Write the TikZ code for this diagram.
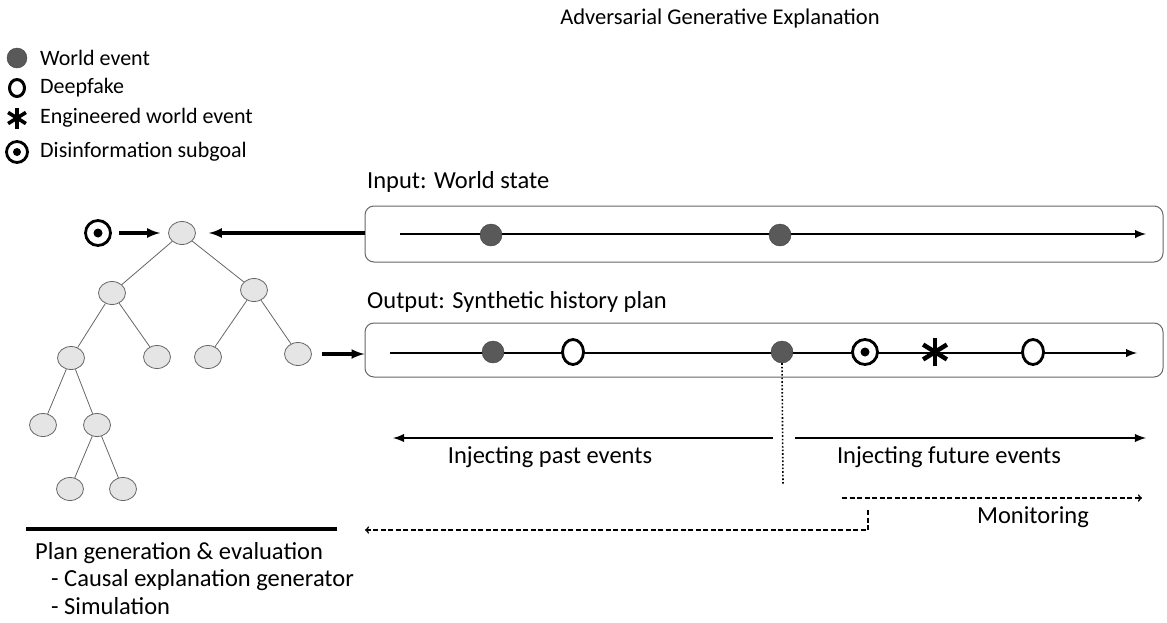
\documentclass[tikz,border=0pt]{standalone}
\usepackage{fontspec}
\setmainfont{Carlito}
\usetikzlibrary{arrows, shapes.geometric}
\tikzstyle{tnode} = [draw=black!60, fill=black!10, ellipse, line width=0.8pt, minimum width=27pt, minimum height=23pt, inner sep=0pt]
\tikzstyle{wevent} = [circle, draw=black!75, fill=black!65, minimum size=22pt, inner sep=0pt]
\tikzstyle{dfake} = [ellipse, draw, line width=2.8pt, fill=white, minimum width=21pt, minimum height=25pt, inner sep=0pt]
\tikzstyle{sgoal} = [circle, draw, line width=2.8pt, fill=white, minimum size=25pt, inner sep=0pt, path picture={\fill[black] (path picture bounding box.center) circle (4.5pt);}]
\tikzstyle{astk} = [minimum size=32pt, inner sep=0pt, path picture={
  \foreach \a in {90,32,148}
    \draw[black, line width=4.5pt, shift={(path picture bounding box.center)}] (\a:14pt) -- (\a+180:14pt);}]
\tikzstyle{box} = [draw=black!60, line width=1pt, rounded corners=9pt, minimum width=798pt, minimum height=56pt]
\tikzstyle{label} = [font=\fontsize{24.5}{28}\selectfont, inner sep=0pt]
\tikzstyle{legend} = [font=\fontsize{22}{26}\selectfont, inner sep=0pt, anchor=west]
\tikzstyle{timeline} = [draw, line width=2.7pt, -latex]
\tikzstyle{bigarrow} = [draw, line width=3.4pt, -latex]
\tikzstyle{span} = [draw, line width=2.8pt, -latex]
\tikzstyle{monitor} = [draw, line width=1.6pt, dash pattern=on 5pt off 2.5pt, ->]
\newcommand{\tnd}[3]{
node (#1) [tnode] at (#2,#3) {}}

\begin{document}
\begin{tikzpicture}[x=1pt, y=-1pt]
		\useasboundingbox (0,0) rectangle (1167,622);

		% Title and legend
		\node (title) [label, font=\fontsize{22.5}{26}\selectfont] at (720,18) {Adversarial Generative Explanation};
		\node (lgw) [wevent, minimum size=20pt] at (17,58) {};
		\node (lgd) [dfake, line width=3pt, minimum width=15pt, minimum height=17pt] at (17,88) {};
		\node (lga) [astk, minimum size=24pt, path picture={
		  \foreach \a in {90,32,148}
		    \draw[black, line width=3.6pt, shift={(path picture bounding box.center)}] (\a:10.5pt) -- (\a+180:10.5pt);}] at (17,118) {};
		\node (lgs) [sgoal, minimum size=21pt, path picture={\fill[black] (path picture bounding box.center) circle (4pt);}] at (17,152) {};
		\node (lgwt) [legend] at (40,58) {World event};
		\node (lgdt) [legend] at (40,88) {Deepfake};
		\node (lgat) [legend] at (40,118) {Engineered world event};
		\node (lgst) [legend] at (40,152) {Disinformation subgoal};

		% Plan tree
		\path \tnd{root}{182}{233};
		\path \tnd{l}{112}{293};
		\path \tnd{r}{254}{290};
		\path \tnd{ll}{71}{358};
		\path \tnd{lr}{157}{357};
		\path \tnd{rl}{208}{357};
		\path \tnd{rr}{298}{354};
		\path \tnd{lll}{43}{425};
		\path \tnd{llr}{97}{425};
		\path \tnd{llra}{70}{489};
		\path \tnd{llrb}{123}{489};
		\foreach \p/\c in {root/l, root/r, l/ll, l/lr, r/rl, r/rr, ll/lll, ll/llr, llr/llra, llr/llrb}
		  \draw[black!60, line width=0.8pt] (\p) -- (\c);
		\node (goal) [sgoal] at (98,233) {};

		% Input and output boxes
		\node (inbox) [box] at (764,234) {};
		\node (outbox) [box, minimum height=54pt] at (764,350) {};
		\node (intxt) [label, anchor=west] at (367,182) {Input: World state};
		\node (outtxt) [label, anchor=west] at (367,302) {Output: Synthetic history plan};

		% Input timeline
		\coordinate (is) at (400,234);
		\coordinate (ie) at (1146,234);
		\path [timeline] (is) -- (ie);
		\node (iw1) [wevent] at (491,235) {};
		\node (iw2) [wevent] at (780,235) {};

		% Output timeline
		\coordinate (os) at (390,353);
		\coordinate (oe) at (1137,353);
		\path [timeline] (os) -- (oe);
		\node (ow1) [wevent] at (493,352) {};
		\node (od1) [dfake] at (573,352) {};
		\node (ow2) [wevent] at (782,352) {};
		\node (og) [sgoal] at (865,352) {};
		\node (oa) [astk] at (935,352) {};
		\node (od2) [dfake] at (1033,352) {};

		% Arrows between elements
		\path [bigarrow, shorten >=13pt] (inbox.west |- root) -- (root);
		\path [bigarrow, shorten <=7pt, shorten >=8pt] (goal) -- (root);
		\path [bigarrow, shorten <=10pt] (rr) -- (outbox.west |- rr);

		% Past and future injection
		\coordinate (dotend) at (783,485);
		\draw[line width=1.6pt, dotted] (ow2.south) -- (dotend);
		\coordinate (pa) at (773,438);
		\coordinate (pb) at (393,438);
		\coordinate (fa) at (795,438);
		\coordinate (fb) at (1146,438);
		\path [span] (pa) -- (pb);
		\path [span] (fa) -- (fb);
		\node (pasttxt) [label] at (550,457) {Injecting past events};
		\node (futtxt) [label] at (949,457) {Injecting future events};

		% Monitoring
		\coordinate (ma) at (842,498);
		\coordinate (mb) at (1142,498);
		\coordinate (mc) at (868,510);
		\coordinate (md) at (868,530);
		\coordinate (me) at (365,530);
		\path [monitor] (ma) -- (mb);
		\path [monitor] (mc) -- (md) -- (me);
		\node (montxt) [label] at (1033,517) {Monitoring};

		% Plan generation caption
		\coordinate (ba) at (26,529);
		\coordinate (bb) at (337,529);
		\draw[line width=3.2pt] (ba) -- (bb);
		\node (cap1) [label, anchor=west] at (35,553) {Plan generation \& evaluation};
		\node (cap2) [label, anchor=west] at (51,580) {- Causal explanation generator};
		\node (cap3) [label, anchor=west] at (51,606) {- Simulation};

	\end{tikzpicture}
\end{document}
